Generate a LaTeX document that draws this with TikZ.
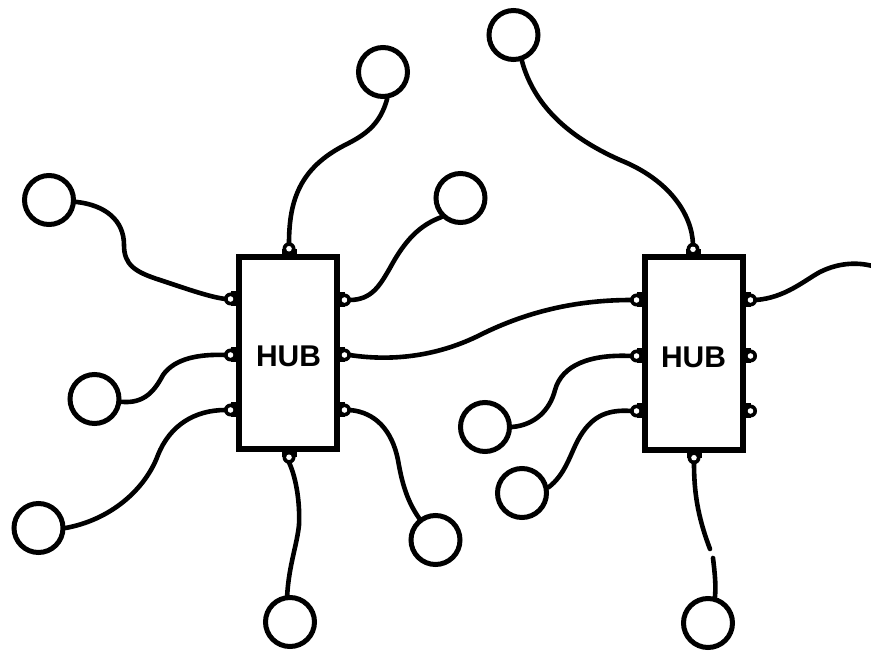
\documentclass[tikz,border=0pt]{standalone}
\usepackage{fontspec}
\setmainfont{Liberation Sans}
\begin{document}
\tikzset{
  wire/.style={line width=4.6pt, line cap=round},
  term/.style={circle, draw, line width=5pt, minimum size=49pt, inner sep=0pt},
  hubbox/.style={rectangle, draw, line width=6pt, minimum width=98pt, minimum height=192.5pt, inner sep=0pt, fill=white},
  hublabel/.style={font=\fontsize{30}{30}\selectfont\bfseries, inner sep=0pt},
  portT/.pic={\fill (-7.5,0) rectangle (7.5,-5); \fill (0,-5) circle[radius=6.5pt]; \fill[white] (0,-5) circle[radius=2.8pt]; \coordinate (-tip) at (0,-10);},
  portB/.pic={\fill (-7.5,0) rectangle (7.5,5); \fill (0,5) circle[radius=6.5pt]; \fill[white] (0,5) circle[radius=2.8pt]; \coordinate (-tip) at (0,10);},
  portL/.pic={\fill (0,-7.5) rectangle (-5,7.5); \fill (-5,0) circle[radius=6.5pt]; \fill[white] (-5,0) circle[radius=2.8pt]; \coordinate (-tip) at (-10,0);},
  portR/.pic={\fill (0,-7.5) rectangle (5,7.5); \fill (5,0) circle[radius=6.5pt]; \fill[white] (5,0) circle[radius=2.8pt]; \coordinate (-tip) at (10,0);}
}
\begin{tikzpicture}[x=1pt,y=-1pt]
\fill[white] (0,0) rectangle (871,652);
\useasboundingbox (0,0) rectangle (871,652);

% hubs
\node[hubbox] (h1) at (287.5,353) {};
\node[hublabel] (l1) at (288.5,356) {HUB};
\node[hubbox] (h2) at (693.5,353.5) {};
\node[hublabel] (l2) at (693.5,357) {HUB};

% ports of hub 1
\pic (p1t) at (289,253.75) {portT};
\pic (p1b) at (289,452.25) {portB};
\pic (p1l1) at (235.5,299) {portL};
\pic (p1l2) at (235.5,355) {portL};
\pic (p1l3) at (235.5,410) {portL};
\pic (p1r1) at (339.5,300) {portR};
\pic (p1r2) at (339.5,355) {portR};
\pic (p1r3) at (339.5,410) {portR};

% ports of hub 2
\pic (p2t) at (693,254.25) {portT};
\pic (p2b) at (694,452.75) {portB};
\pic (p2l1) at (641.5,300) {portL};
\pic (p2l2) at (641.5,356) {portL};
\pic (p2l3) at (641.5,411) {portL};
\pic (p2r1) at (745.5,300) {portR};
\pic (p2r2) at (745.5,356) {portR};
\pic (p2r3) at (745.5,411) {portR};

% terminals
\node[term] (c1) at (383,72) {};
\node[term] (c2) at (49,200) {};
\node[term] (c3) at (460.5,198) {};
\node[term] (c4) at (94.5,399) {};
\node[term] (c5) at (38.5,528) {};
\node[term] (c6) at (435.5,540) {};
\node[term] (c7) at (290,622) {};
\node[term] (c8) at (513.5,35) {};
\node[term] (c10) at (485,427) {};
\node[term] (c11) at (522,493) {};
\node[term] (c13) at (708,623) {};

\coordinate (edge) at (876,267);
\coordinate (gapA) at (710,549);
\coordinate (gapB) at (713,558);

% wires
\draw[wire] (c1.-81) .. controls (380,125) and (365,135) .. (345,145) .. controls (300,168) and (289,200) .. (p1t-tip);
\draw[wire] (c2.-4) .. controls (105,205) and (124,220) .. (124,245) .. controls (124,265) and (135,272) .. (160,280) .. controls (190,290) and (210,297) .. (p1l1-tip);
\draw[wire] (p1r1-tip) .. controls (372,300) and (380,285) .. (390,268) .. controls (405,240) and (420,225) .. (c3.-135);
\draw[wire] (c4.-6) .. controls (145,404) and (155,390) .. (163,375) .. controls (175,358) and (200,354) .. (p1l2-tip);
\draw[wire] (c5.east) .. controls (110,520) and (145,490) .. (158,455) .. controls (170,425) and (195,410) .. (p1l3-tip);
\draw[wire] (p1r3-tip) .. controls (375,412) and (392,430) .. (398,460) .. controls (403,490) and (410,505) .. (c6.127);
\draw[wire] (p1b-tip) .. controls (297,480) and (300,505) .. (299,525) .. controls (297,545) and (289,565) .. (c7.96);
\draw[wire] (c8.-72) .. controls (535,110) and (575,140) .. (620,160) .. controls (670,180) and (692,215) .. (p2t-tip);
\draw[wire] (p1r2-tip) .. controls (395,362) and (440,355) .. (480,335) .. controls (530,310) and (580,300) .. (p2l1-tip);
\draw[wire] (c10.east) .. controls (535,425) and (550,410) .. (555,390) .. controls (562,365) and (590,354) .. (p2l2-tip);
\draw[wire] (c11.12) .. controls (565,475) and (570,455) .. (578,440) .. controls (590,418) and (605,409) .. (p2l3-tip);
\draw[wire] (p2r1-tip) .. controls (785,298) and (805,280) .. (820,272) .. controls (840,262) and (860,262) .. (edge);
\draw[wire] (p2b-tip) .. controls (694,490) and (697,515) .. (gapA);
\draw[wire] (gapB) .. controls (715,575) and (716,585) .. (c13.75);
\end{tikzpicture}
\end{document}
